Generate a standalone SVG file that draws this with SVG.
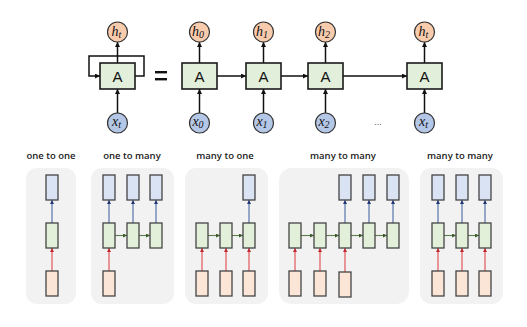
<svg xmlns="http://www.w3.org/2000/svg" width="527" height="327" viewBox="0 0 527 327">
<defs>
<marker id="ak" viewBox="0 0 6 6" refX="6" refY="3" markerWidth="5" markerHeight="5" markerUnits="userSpaceOnUse" orient="auto"><path d="M0,0 L6,3 L0,6 z" fill="#111"/></marker>
<marker id="ar" viewBox="0 0 6 6" refX="6" refY="3" markerWidth="4" markerHeight="4" markerUnits="userSpaceOnUse" orient="auto"><path d="M0,0 L6,3 L0,6 z" fill="#c0282e"/></marker>
<marker id="ab" viewBox="0 0 6 6" refX="6" refY="3" markerWidth="4" markerHeight="4" markerUnits="userSpaceOnUse" orient="auto"><path d="M0,0 L6,3 L0,6 z" fill="#1f3a73"/></marker>
<marker id="ag" viewBox="0 0 6 6" refX="6" refY="3" markerWidth="4" markerHeight="4" markerUnits="userSpaceOnUse" orient="auto"><path d="M0,0 L6,3 L0,6 z" fill="#3b5a2a"/></marker>
</defs>
<style>
.cell{fill:#e2efda;stroke:#1a1a1a;stroke-width:1.6}
.A{font-family:"Liberation Sans",Arial,sans-serif;font-size:15px;fill:#111;text-anchor:middle}
.hc{fill:#f8cbad;stroke:#333;stroke-width:1.2}
.xc{fill:#b4c7e7;stroke:#333;stroke-width:1.2}
.m{font-family:"Liberation Serif","Times New Roman",serif;font-style:italic;font-size:14px;fill:#111;text-anchor:middle}
.sub{font-size:10px}
.k{stroke:#111;stroke-width:1.5;fill:none;marker-end:url(#ak)}
.panel{fill:#f2f2f2}
.lbl{font-family:"Open Sans","Lato",sans-serif;font-size:9.5px;font-weight:600;fill:#1a1a1a;text-anchor:middle}
.bo{fill:#dae3f3;stroke:#444;stroke-width:1.3}
.go{fill:#e2f0d9;stroke:#444;stroke-width:1.3}
.oo{fill:#fbe5d6;stroke:#444;stroke-width:1.3}
.rl{stroke:#e0484e;stroke-width:1.1;fill:none;marker-end:url(#ar)}
.bl{stroke:#4a68a3;stroke-width:1.1;fill:none;marker-end:url(#ab)}
.gl{stroke:#5d7d4b;stroke-width:1.1;fill:none;marker-end:url(#ag)}
</style>
<g id="connectors">
<path class="k" d="M135,76 H144 V56 H89 V76 H100"/>
<line class="k" x1="117.5" y1="113" x2="117.5" y2="89"/>
<line class="k" x1="117.5" y1="63" x2="117.5" y2="42"/>
<line class="k" x1="199.5" y1="113" x2="199.5" y2="89"/>
<line class="k" x1="199.5" y1="63" x2="199.5" y2="42"/>
<line class="k" x1="263.5" y1="113" x2="263.5" y2="89"/>
<line class="k" x1="263.5" y1="63" x2="263.5" y2="42"/>
<line class="k" x1="325.5" y1="113" x2="325.5" y2="89"/>
<line class="k" x1="325.5" y1="63" x2="325.5" y2="42"/>
<line class="k" x1="424.5" y1="113" x2="424.5" y2="89"/>
<line class="k" x1="424.5" y1="63" x2="424.5" y2="42"/>
<line class="k" x1="217" y1="76" x2="246" y2="76"/>
<line class="k" x1="281" y1="76" x2="308" y2="76"/>
<line class="k" x1="343" y1="76" x2="407" y2="76"/>
</g>
<g id="rnn-folded">
<rect class="cell" x="100" y="63" width="35" height="26"/>
<text class="A" x="117.5" y="81.5">A</text>
</g>
<g id="ht-folded"><circle class="hc" cx="117.5" cy="32" r="10"/><text class="m" x="116.5" y="36">h<tspan class="sub" dy="2">t</tspan></text></g>
<g id="xt-folded"><circle class="xc" cx="117.5" cy="123" r="10"/><text class="m" x="116.5" y="126">x<tspan class="sub" dy="2">t</tspan></text></g>
<g id="equals"><rect x="155" y="71" width="12" height="2.4" fill="#111"/><rect x="155" y="78" width="12" height="2.4" fill="#111"/></g>
<g id="rnn-0"><rect class="cell" x="182" y="63" width="35" height="26"/><text class="A" x="199.5" y="81.5">A</text></g>
<g id="h0"><circle class="hc" cx="199.5" cy="32" r="10"/><text class="m" x="198" y="36">h<tspan class="sub" dy="2">0</tspan></text></g>
<g id="x0"><circle class="xc" cx="199.5" cy="123" r="10"/><text class="m" x="198" y="126">x<tspan class="sub" dy="2">0</tspan></text></g>
<g id="rnn-1"><rect class="cell" x="246" y="63" width="35" height="26"/><text class="A" x="263.5" y="81.5">A</text></g>
<g id="h1"><circle class="hc" cx="263.5" cy="32" r="10"/><text class="m" x="262" y="36">h<tspan class="sub" dy="2">1</tspan></text></g>
<g id="x1"><circle class="xc" cx="263.5" cy="123" r="10"/><text class="m" x="262" y="126">x<tspan class="sub" dy="2">1</tspan></text></g>
<g id="rnn-2"><rect class="cell" x="308" y="63" width="35" height="26"/><text class="A" x="325.5" y="81.5">A</text></g>
<g id="h2"><circle class="hc" cx="325.5" cy="32" r="10"/><text class="m" x="324" y="36">h<tspan class="sub" dy="2">2</tspan></text></g>
<g id="x2"><circle class="xc" cx="325.5" cy="123" r="10"/><text class="m" x="324" y="126">x<tspan class="sub" dy="2">2</tspan></text></g>
<g id="dots"><text x="378" y="125" font-family="Liberation Sans,sans-serif" font-size="9" fill="#555" text-anchor="middle">...</text></g>
<g id="rnn-t"><rect class="cell" x="407" y="63" width="35" height="26"/><text class="A" x="424.5" y="81.5">A</text></g>
<g id="ht"><circle class="hc" cx="424.5" cy="32" r="10"/><text class="m" x="423.5" y="36">h<tspan class="sub" dy="2">t</tspan></text></g>
<g id="xt"><circle class="xc" cx="424.5" cy="123" r="10"/><text class="m" x="423.5" y="126">x<tspan class="sub" dy="2">t</tspan></text></g>

<g id="one-to-one">
<text class="lbl" x="51" y="159">one to one</text>
<rect class="panel" x="26" y="168" width="50" height="136" rx="11"/>
<line class="rl" x1="52" y1="271" x2="52" y2="248"/>
<line class="bl" x1="52" y1="223" x2="52" y2="200"/>
<rect class="bo" x="46" y="175" width="12" height="25"/>
<rect class="go" x="46" y="223" width="12" height="25"/>
<rect class="oo" x="46" y="271" width="12" height="25"/>
</g>
<g id="one-to-many">
<text class="lbl" x="132" y="159">one to many</text>
<rect class="panel" x="91" y="168" width="83" height="136" rx="11"/>
<line class="rl" x1="109" y1="271" x2="109" y2="248"/>
<line class="bl" x1="109" y1="223" x2="109" y2="200"/>
<line class="bl" x1="133" y1="223" x2="133" y2="200"/>
<line class="bl" x1="156" y1="223" x2="156" y2="200"/>
<line class="gl" x1="115" y1="235.5" x2="127" y2="235.5"/>
<line class="gl" x1="139" y1="235.5" x2="150" y2="235.5"/>
<rect class="bo" x="103" y="175" width="12" height="25"/>
<rect class="bo" x="127" y="175" width="12" height="25"/>
<rect class="bo" x="150" y="175" width="12" height="25"/>
<rect class="go" x="103" y="223" width="12" height="25"/>
<rect class="go" x="127" y="223" width="12" height="25"/>
<rect class="go" x="150" y="223" width="12" height="25"/>
<rect class="oo" x="103" y="271" width="12" height="25"/>
</g>
<g id="many-to-one">
<text class="lbl" x="225" y="159">many to one</text>
<rect class="panel" x="185" y="168" width="83" height="136" rx="11"/>
<line class="rl" x1="202" y1="271" x2="202" y2="248"/>
<line class="rl" x1="226" y1="271" x2="226" y2="248"/>
<line class="rl" x1="249" y1="271" x2="249" y2="248"/>
<line class="bl" x1="249" y1="223" x2="249" y2="200"/>
<line class="gl" x1="208" y1="235.5" x2="220" y2="235.5"/>
<line class="gl" x1="232" y1="235.5" x2="243" y2="235.5"/>
<rect class="bo" x="243" y="175" width="12" height="25"/>
<rect class="go" x="196" y="223" width="12" height="25"/>
<rect class="go" x="220" y="223" width="12" height="25"/>
<rect class="go" x="243" y="223" width="12" height="25"/>
<rect class="oo" x="196" y="271" width="12" height="25"/>
<rect class="oo" x="220" y="271" width="12" height="25"/>
<rect class="oo" x="243" y="271" width="12" height="25"/>
</g>
<g id="many-to-many-1">
<text class="lbl" x="343" y="159">many to many</text>
<rect class="panel" x="279" y="168" width="130" height="136" rx="13"/>
<line class="rl" x1="295" y1="271" x2="295" y2="248"/>
<line class="rl" x1="320" y1="271" x2="320" y2="248"/>
<line class="rl" x1="345" y1="272" x2="345" y2="248"/>
<line class="bl" x1="345" y1="223" x2="345" y2="200"/>
<line class="bl" x1="369" y1="223" x2="369" y2="200"/>
<line class="bl" x1="393" y1="223" x2="393" y2="200"/>
<line class="gl" x1="301" y1="235.5" x2="314" y2="235.5"/>
<line class="gl" x1="326" y1="235.5" x2="339" y2="235.5"/>
<line class="gl" x1="351" y1="235.5" x2="363" y2="235.5"/>
<line class="gl" x1="375" y1="235.5" x2="387" y2="235.5"/>
<rect class="bo" x="339" y="175" width="12" height="25"/>
<rect class="bo" x="363" y="175" width="12" height="25"/>
<rect class="bo" x="387" y="175" width="12" height="25"/>
<rect class="go" x="289" y="223" width="12" height="25"/>
<rect class="go" x="314" y="223" width="12" height="25"/>
<rect class="go" x="339" y="223" width="12" height="25"/>
<rect class="go" x="363" y="223" width="12" height="25"/>
<rect class="go" x="387" y="223" width="12" height="25"/>
<rect class="oo" x="289" y="271" width="12" height="25"/>
<rect class="oo" x="314" y="271" width="12" height="25"/>
<rect class="oo" x="339" y="272" width="12" height="25"/>
</g>
<g id="many-to-many-2">
<text class="lbl" x="460" y="159">many to many</text>
<rect class="panel" x="420" y="168" width="83" height="136" rx="11"/>
<line class="rl" x1="438" y1="271" x2="438" y2="248"/>
<line class="rl" x1="462" y1="271" x2="462" y2="248"/>
<line class="rl" x1="485" y1="271" x2="485" y2="248"/>
<line class="bl" x1="438" y1="223" x2="438" y2="200"/>
<line class="bl" x1="462" y1="223" x2="462" y2="200"/>
<line class="bl" x1="485" y1="223" x2="485" y2="200"/>
<line class="gl" x1="444" y1="235.5" x2="456" y2="235.5"/>
<line class="gl" x1="468" y1="235.5" x2="479" y2="235.5"/>
<rect class="bo" x="432" y="175" width="12" height="25"/>
<rect class="bo" x="456" y="175" width="12" height="25"/>
<rect class="bo" x="479" y="175" width="12" height="25"/>
<rect class="go" x="432" y="223" width="12" height="25"/>
<rect class="go" x="456" y="223" width="12" height="25"/>
<rect class="go" x="479" y="223" width="12" height="25"/>
<rect class="oo" x="432" y="271" width="12" height="25"/>
<rect class="oo" x="456" y="271" width="12" height="25"/>
<rect class="oo" x="479" y="271" width="12" height="25"/>
</g>
</svg>
